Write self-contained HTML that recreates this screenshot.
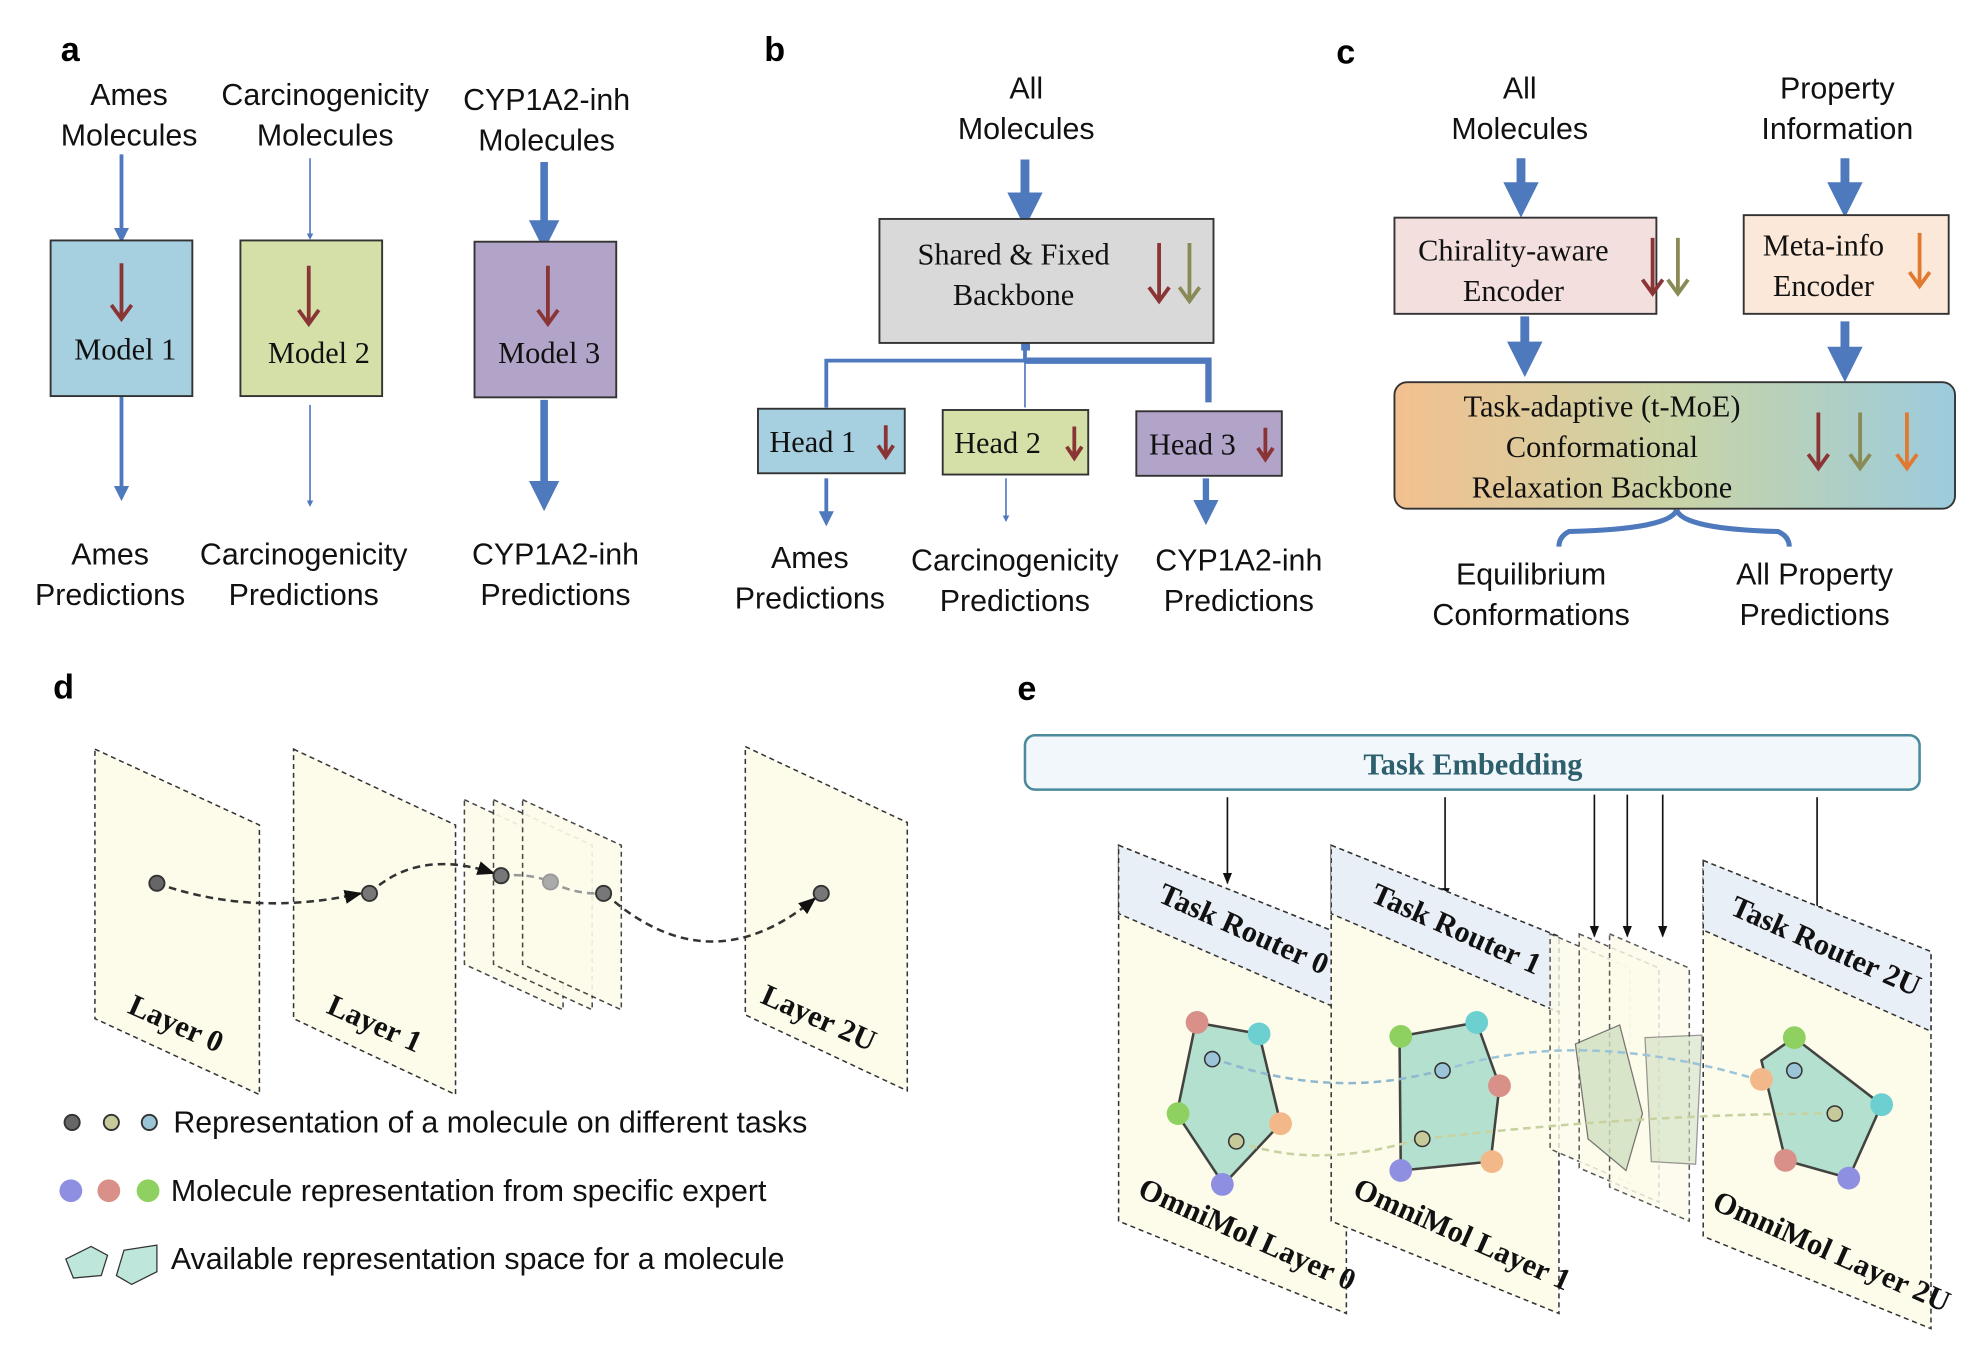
<!DOCTYPE html>
<html><head><meta charset="utf-8"><style>
html,body{margin:0;padding:0;background:#fff}
svg{display:block}
.s{font-family:"Liberation Sans",sans-serif;font-size:24px;fill:#111}
.r{font-family:"Liberation Serif",serif;font-size:24px;fill:#111}
.b{font-family:"Liberation Sans",sans-serif;font-size:27px;font-weight:bold;fill:#000}
</style></head><body>
<svg width="1974" height="1354" viewBox="0 0 1560 1070" xmlns="http://www.w3.org/2000/svg">
<defs>
<marker id="ab" viewBox="0 0 10 10" refX="5" refY="5" markerWidth="4" markerHeight="4" orient="auto"><path d="M0,0L10,5L0,10z" fill="#4f79bd"/></marker>
<marker id="ak" viewBox="0 0 10 10" refX="9" refY="5" markerWidth="7" markerHeight="7" orient="auto"><path d="M0,1L10,5L0,9z" fill="#111"/></marker>
<linearGradient id="g" x1="0" x2="1"><stop offset="0" stop-color="#f3c08f"/><stop offset="0.5" stop-color="#c9d4a6"/><stop offset="1" stop-color="#9ccbdd"/></linearGradient>
</defs>
<g fill="none" stroke="#4f79bd">
<line x1="96" y1="122" x2="96" y2="186" stroke-width="3" marker-end="url(#ab)"/>
<line x1="96" y1="313" x2="96" y2="390" stroke-width="3" marker-end="url(#ab)"/>
<line x1="245" y1="125" x2="245" y2="187" stroke-width="1.3" marker-end="url(#ab)"/>
<line x1="245" y1="320" x2="245" y2="398" stroke-width="1.3" marker-end="url(#ab)"/>
<line x1="430" y1="128" x2="430" y2="186" stroke-width="6" marker-end="url(#ab)"/>
<line x1="430" y1="316" x2="430" y2="392" stroke-width="6" marker-end="url(#ab)"/>
<line x1="810" y1="126" x2="810" y2="166" stroke-width="7" marker-end="url(#ab)"/>
<path d="M810,272V285H653V322" stroke-width="3"/>
<path d="M810,285V322" stroke-width="1.3"/>
<path d="M810,285H955V318" stroke-width="5"/>
<line x1="653" y1="378" x2="653" y2="410" stroke-width="3" marker-end="url(#ab)"/>
<line x1="795" y1="378" x2="795" y2="410" stroke-width="1.3" marker-end="url(#ab)"/>
<line x1="953" y1="378" x2="953" y2="405" stroke-width="5" marker-end="url(#ab)"/>
<line x1="1202" y1="125" x2="1202" y2="158" stroke-width="7" marker-end="url(#ab)"/>
<line x1="1458" y1="125" x2="1458" y2="158" stroke-width="7" marker-end="url(#ab)"/>
<line x1="1205" y1="250" x2="1205" y2="284" stroke-width="7" marker-end="url(#ab)"/>
<line x1="1458" y1="254" x2="1458" y2="288" stroke-width="7" marker-end="url(#ab)"/>
<path d="M1325,403Q1320,418 1240,420Q1232,424 1232,432" stroke-width="4"/>
<path d="M1325,403Q1330,418 1405,420Q1414,424 1414,432" stroke-width="4"/>
</g>
<rect x="807" y="270" width="7" height="7" fill="#4f79bd"/>
<text class="b" x="48" y="48">a</text><text class="b" x="604" y="48">b</text><text class="b" x="1056" y="50">c</text>
<text class="b" x="42" y="552">d</text><text class="b" x="804" y="553">e</text>
<g class="s" text-anchor="middle">
<text x="102" y="83">Ames</text><text x="102" y="115">Molecules</text>
<text x="257" y="83">Carcinogenicity</text><text x="257" y="115">Molecules</text>
<text x="432" y="87">CYP1A2-inh</text><text x="432" y="119">Molecules</text>
<text x="87" y="446">Ames</text><text x="87" y="478">Predictions</text>
<text x="240" y="446">Carcinogenicity</text><text x="240" y="478">Predictions</text>
<text x="439" y="446">CYP1A2-inh</text><text x="439" y="478">Predictions</text>
<text x="811" y="78">All</text><text x="811" y="110">Molecules</text>
<text x="640" y="449">Ames</text><text x="640" y="481">Predictions</text>
<text x="802" y="451">Carcinogenicity</text><text x="802" y="483">Predictions</text>
<text x="979" y="451">CYP1A2-inh</text><text x="979" y="483">Predictions</text>
<text x="1201" y="78">All</text><text x="1201" y="110">Molecules</text>
<text x="1452" y="78">Property</text><text x="1452" y="110">Information</text>
<text x="1210" y="462">Equilibrium</text><text x="1210" y="494">Conformations</text>
<text x="1434" y="462">All Property</text><text x="1434" y="494">Predictions</text>
</g>
<rect x="40" y="190" width="112" height="123" fill="#a6cfe0" stroke="#333" stroke-width="1.5"/>
<rect x="190" y="190" width="112" height="123" fill="#d5e0a8" stroke="#333" stroke-width="1.5"/>
<rect x="375" y="191" width="112" height="123" fill="#b2a3c8" stroke="#333" stroke-width="1.5"/>
<g class="r" text-anchor="middle"><text x="99" y="284">Model 1</text><text x="252" y="287">Model 2</text><text x="434" y="287">Model 3</text></g>
<g stroke="#8a3535" stroke-width="3" fill="none">
<path d="M96,208V250M88,241L96,252L104,241"/><path d="M244,210V254M236,245L244,256L252,245"/><path d="M433,210V254M425,245L433,256L441,245"/>
</g>
<rect x="695" y="173" width="264" height="98" fill="#d9d9d9" stroke="#333" stroke-width="1.5"/>
<g class="r" text-anchor="middle"><text x="801" y="209">Shared &amp; Fixed</text><text x="801" y="241">Backbone</text></g>
<rect x="599" y="323" width="116" height="51" fill="#a6cfe0" stroke="#333" stroke-width="1.5"/>
<rect x="745" y="324" width="115" height="51" fill="#d5e0a8" stroke="#333" stroke-width="1.5"/>
<rect x="898" y="325" width="115" height="51" fill="#b2a3c8" stroke="#333" stroke-width="1.5"/>
<g class="r"><text x="608" y="357">Head 1</text><text x="754" y="358">Head 2</text><text x="908" y="359">Head 3</text></g>
<g stroke-width="3" fill="none">
<path stroke="#8a3535" d="M916,192V236M908,227L916,238L924,227"/><path stroke="#8a8a55" d="M940,192V236M932,227L940,238L948,227"/>
<path stroke="#8a3535" d="M700,336V360M694,352L700,361L706,352"/><path stroke="#8a3535" d="M849,337V361M843,353L849,362L855,353"/><path stroke="#8a3535" d="M1000,338V362M994,354L1000,363L1006,354"/>
</g>
<rect x="1102" y="172" width="207" height="76" fill="#f2dfde" stroke="#333" stroke-width="1.5"/>
<g class="r" text-anchor="middle"><text x="1196" y="206">Chirality-aware</text><text x="1196" y="238">Encoder</text></g>
<rect x="1378" y="170" width="162" height="78" fill="#fbe8d8" stroke="#333" stroke-width="1.5"/>
<g class="r" text-anchor="middle"><text x="1441" y="202">Meta-info</text><text x="1441" y="234">Encoder</text></g>
<rect x="1102" y="302" width="443" height="100" rx="10" fill="url(#g)" stroke="#333" stroke-width="1.5"/>
<g class="r" text-anchor="middle"><text x="1266" y="329">Task-adaptive (t-MoE)</text><text x="1266" y="361">Conformational</text><text x="1266" y="393">Relaxation Backbone</text></g>
<g stroke-width="3" fill="none">
<path stroke="#8a3535" d="M1306,188V230M1298,221L1306,232L1314,221"/><path stroke="#8a8a55" d="M1326,188V230M1318,221L1326,232L1334,221"/>
<path stroke="#e07a30" d="M1517,184V224M1509,215L1517,226L1525,215"/>
<path stroke="#8a3535" d="M1437,326V368M1429,359L1437,370L1445,359"/><path stroke="#8a8a55" d="M1470,326V368M1462,359L1470,370L1478,359"/><path stroke="#e07a30" d="M1507,326V368M1499,359L1507,370L1515,359"/>
</g>
<g fill="#fdfbea" stroke="#333" stroke-dasharray="4,3" stroke-width="1.2">
<path d="M75,592L205,652V865L75,805Z"/><path d="M232,592L360,652V865L232,805Z"/>
<path d="M367,632L445,668V798L367,762Z" opacity=".9"/><path d="M390,632L468,668V798L390,762Z" opacity=".9"/><path d="M413,632L491,668V798L413,762Z" opacity=".9"/>
<path d="M589,590L717,650V862L589,802Z"/>
</g>
<g class="r" font-size="27" font-weight="bold">
<text transform="translate(100,800) rotate(24)">Layer 0</text>
<text transform="translate(257,800) rotate(24)">Layer 1</text>
<text transform="translate(600,792) rotate(24)">Layer 2U</text>
</g>
<g fill="none" stroke="#333" stroke-width="2" stroke-dasharray="6,4">
<path d="M124,698Q200,725 285,706" marker-end="url(#ak)"/>
<path d="M292,706Q330,670 390,690" marker-end="url(#ak)"/>
<path d="M396,692Q420,690 435,697Q455,707 476,706" stroke="#999"/>
<path d="M478,706Q560,780 644,710" marker-end="url(#ak)"/>
</g>
<g stroke="#333" stroke-width="1.5"><circle cx="124" cy="698" r="6" fill="#666"/><circle cx="292" cy="706" r="6" fill="#777"/><circle cx="396" cy="692" r="6" fill="#777"/><circle cx="435" cy="697" r="6" fill="#aaa" stroke="#999"/><circle cx="477" cy="706" r="6" fill="#777"/><circle cx="649" cy="706" r="6" fill="#777"/>
<circle cx="57" cy="887" r="6" fill="#666"/><circle cx="88" cy="887" r="6" fill="#c6c99a"/><circle cx="118" cy="887" r="6" fill="#9cc4d8"/></g>
<circle cx="56" cy="941" r="9" fill="#8e8fe0"/><circle cx="86" cy="941" r="9" fill="#d89088"/><circle cx="117" cy="941" r="9" fill="#8fd160"/>
<path d="M52,995L72,985L85,992L80,1008L58,1010Z" fill="#bfe6da" stroke="#333"/><path d="M98,988L124,984L124,1005L104,1015L92,1008Z" fill="#bfe6da" stroke="#333"/>
<g class="s" font-size="22"><text x="137" y="895">Representation of a molecule on different tasks</text><text x="135" y="949">Molecule representation from specific expert</text><text x="135" y="1003">Available representation space for a molecule</text></g>
<rect x="810" y="581" width="707" height="43" rx="8" fill="#f1f7fb" stroke="#4a8a9a" stroke-width="2"/>
<text x="1164" y="612" text-anchor="middle" font-family="Liberation Serif,serif" font-weight="bold" font-size="24" fill="#2e5f6d">Task Embedding</text>
<g stroke="#111" stroke-width="1.3">
<line x1="970" y1="630" x2="970" y2="698" marker-end="url(#ak)"/><line x1="1142" y1="630" x2="1142" y2="710" marker-end="url(#ak)"/>
<line x1="1260" y1="628" x2="1260" y2="740" marker-end="url(#ak)"/><line x1="1286" y1="628" x2="1286" y2="740" marker-end="url(#ak)"/><line x1="1314" y1="628" x2="1314" y2="740" marker-end="url(#ak)"/>
<line x1="1436" y1="630" x2="1436" y2="724" marker-end="url(#ak)"/>
</g>
<g stroke="#333" stroke-dasharray="4,3" stroke-width="1.2">
<path d="M884,668L1064,740V1038L884,965Z" fill="#fdfbea"/><path d="M884,668L1064,740V800L884,722Z" fill="#e9eff7"/>
<path d="M1052,668L1232,740V1038L1052,965Z" fill="#fdfbea"/><path d="M1052,668L1232,740V800L1052,722Z" fill="#e9eff7"/>
<path d="M1225,738L1288,765V935L1225,908Z" fill="#fdfbea" opacity=".8"/><path d="M1248,738L1311,765V950L1248,923Z" fill="#fdfbea" opacity=".8"/><path d="M1272,738L1335,765V965L1272,938Z" fill="#fdfbea" opacity=".8"/>
<path d="M1346,680L1526,752V1050L1346,977Z" fill="#fdfbea"/><path d="M1346,680L1526,752V815L1346,735Z" fill="#e9eff7"/>
</g>
<g fill="#a8dccb" stroke="#222" stroke-width="2" opacity=".85">
<path d="M945,808L995,817L1012,888L967,936L930,880Z"/><path d="M1106,819L1167,808L1185,858L1178,918L1107,925Z"/><path d="M1392,838L1418,820L1487,873L1461,931L1411,917Z"/>
</g>
<path d="M1245,825L1280,810L1298,880L1285,925L1255,900Z" fill="#cfe0c0" stroke="#555" opacity=".8"/><path d="M1300,820L1345,818L1340,920L1305,918Z" fill="#cfe0c0" stroke="#555" opacity=".6"/>
<g fill="none" stroke-width="2" stroke-dasharray="6,4">
<path d="M958,836Q1050,870 1138,846" stroke="#8fb8cf"/><path d="M1140,846Q1250,810 1395,855" stroke="#9cc4d8"/>
<path d="M978,902Q1040,925 1122,900" stroke="#c8d2a0"/><path d="M1124,900Q1300,880 1446,880" stroke="#c8d2a0"/>
</g>
<g stroke="#333" stroke-width="1.2">
<circle cx="958" cy="837" r="6" fill="#9cc4d8"/><circle cx="977" cy="902" r="6" fill="#c6c99a"/><circle cx="1140" cy="846" r="6" fill="#9cc4d8"/><circle cx="1124" cy="900" r="6" fill="#c6c99a"/><circle cx="1418" cy="846" r="6" fill="#9cc4d8"/><circle cx="1450" cy="880" r="6" fill="#c6c99a"/>
</g>
<g>
<circle cx="946" cy="808" r="9" fill="#d89088"/><circle cx="995" cy="817" r="9" fill="#6dd0d0"/><circle cx="931" cy="880" r="9" fill="#8fd160"/><circle cx="1012" cy="888" r="9" fill="#f3b88a"/><circle cx="966" cy="936" r="9" fill="#8e8fe0"/>
<circle cx="1107" cy="819" r="9" fill="#8fd160"/><circle cx="1167" cy="808" r="9" fill="#6dd0d0"/><circle cx="1185" cy="858" r="9" fill="#d89088"/><circle cx="1179" cy="918" r="9" fill="#f3b88a"/><circle cx="1107" cy="925" r="9" fill="#8e8fe0"/>
<circle cx="1418" cy="820" r="9" fill="#8fd160"/><circle cx="1392" cy="853" r="9" fill="#f3b88a"/><circle cx="1487" cy="873" r="9" fill="#6dd0d0"/><circle cx="1411" cy="917" r="9" fill="#d89088"/><circle cx="1461" cy="931" r="9" fill="#8e8fe0"/>
</g>
<g class="r" font-size="24" font-weight="bold">
<text transform="translate(914,712) rotate(24)">Task Router 0</text><text transform="translate(1082,712) rotate(24)">Task Router 1</text><text transform="translate(1366,722) rotate(24)">Task Router 2U</text>
<text transform="translate(898,945) rotate(24)">OmniMol Layer 0</text><text transform="translate(1068,945) rotate(24)">OmniMol Layer 1</text><text transform="translate(1352,955) rotate(24)">OmniMol Layer 2U</text>
</g>
</svg>
</body></html>
